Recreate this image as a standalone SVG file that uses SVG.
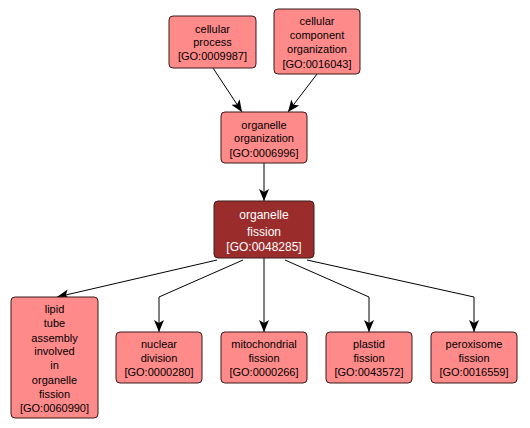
<svg xmlns="http://www.w3.org/2000/svg" width="530" height="428" viewBox="0 0 530 428">
<defs>
<marker id="arr" viewBox="0 0 12 10" refX="12" refY="5" markerWidth="12" markerHeight="10" markerUnits="userSpaceOnUse" orient="auto">
<path d="M0,0 L12,5 L0,10 L3,5 Z" fill="#000"/>
</marker>
<style>
.n rect{fill:#ff8a8a;stroke:#3a1a1a;stroke-width:1}
.d rect{fill:#9a2c2c;stroke:#3a1a1a;stroke-width:1}
text{font-family:"Liberation Sans",Arial,sans-serif;font-size:11px;text-anchor:middle;fill:#000}
.d text{fill:#fff;font-size:12px}
.e path{fill:none;stroke:#000;stroke-width:1;marker-end:url(#arr)}
</style>
</defs>
<rect width="530" height="428" fill="#fff"/>
<g class="e" id="edges">
<path d="M213,68 L242,112"/>
<path d="M317,74 L288,112"/>
<path d="M264,163 L264,201"/>
<path d="M217,260 L57,297"/>
<path d="M243,260 L159,297 L159,332"/>
<path d="M264,258 L264,332"/>
<path d="M285,260 L369,297 L369,332"/>
<path d="M307,260 L474,297 L474,332"/>
</g>
<g class="n" id="n_cp"><rect x="169" y="16" width="87" height="52" rx="4"/>
<text x="212.5" y="33">cellular</text><text x="212.5" y="46">process</text><text x="212.5" y="60">[GO:0009987]</text></g>
<g class="n" id="n_cco"><rect x="274" y="9" width="86" height="65" rx="4"/>
<text x="317" y="25">cellular</text><text x="317" y="39">component</text><text x="317" y="53">organization</text><text x="317" y="68">[GO:0016043]</text></g>
<g class="n" id="n_oo"><rect x="221" y="112" width="86" height="51" rx="4"/>
<text x="264" y="129">organelle</text><text x="264" y="142">organization</text><text x="264" y="157">[GO:0006996]</text></g>
<g class="d" id="n_of"><rect x="214" y="201" width="100" height="57" rx="4"/>
<text x="264" y="219">organelle</text><text x="264" y="236">fission</text><text x="264" y="251">[GO:0048285]</text></g>
<g class="n" id="n_lipid"><rect x="11" y="297" width="87" height="121" rx="4"/>
<text x="54.5" y="313">lipid</text><text x="54.5" y="327">tube</text><text x="54.5" y="341.5">assembly</text><text x="54.5" y="355">involved</text><text x="54.5" y="369">in</text><text x="54.5" y="384">organelle</text><text x="54.5" y="398">fission</text><text x="54.5" y="412">[GO:0060990]</text></g>
<g class="n" id="n_nd"><rect x="116" y="332" width="86" height="51" rx="4"/>
<text x="159" y="348">nuclear</text><text x="159" y="362">division</text><text x="159" y="376">[GO:0000280]</text></g>
<g class="n" id="n_mf"><rect x="221" y="332" width="86" height="51" rx="4"/>
<text x="264" y="348">mitochondrial</text><text x="264" y="362">fission</text><text x="264" y="376">[GO:0000266]</text></g>
<g class="n" id="n_pf"><rect x="326" y="332" width="86" height="51" rx="4"/>
<text x="369" y="348">plastid</text><text x="369" y="362">fission</text><text x="369" y="376">[GO:0043572]</text></g>
<g class="n" id="n_pxf"><rect x="431" y="332" width="86" height="51" rx="4"/>
<text x="474" y="348">peroxisome</text><text x="474" y="362">fission</text><text x="474" y="376">[GO:0016559]</text></g>
</svg>
